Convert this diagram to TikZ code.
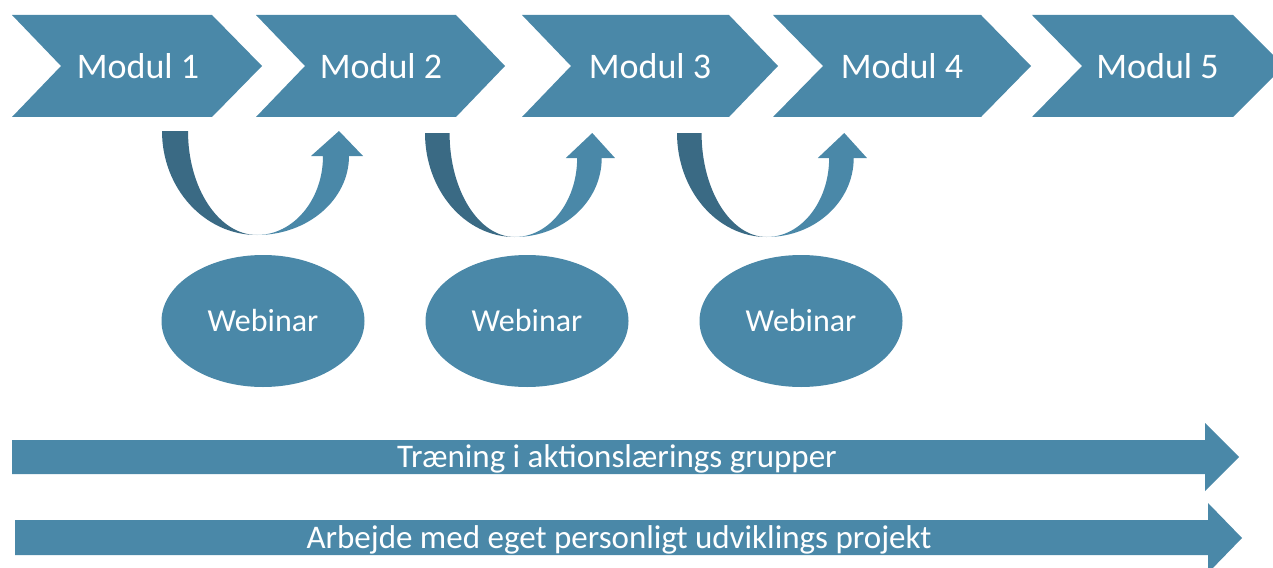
\documentclass[tikz,border=0pt]{standalone}
\usepackage{fontspec}
\setmainfont{Carlito}
\usetikzlibrary{shapes.geometric}
\definecolor{mblue}{HTML}{4A88A8}
\definecolor{mdark}{HTML}{3A6A84}
\newcommand\chevshape[4]{%
  \fill[mblue] (#1,15) -- (#3,15) -- (#4,66) -- (#3,117) -- (#1,117) -- (#2,66) -- cycle;}
\newcommand\uturn[3]{%
  \begin{scope}[shift={(#1,#2)},xscale=#3]
    \fill[mdark] (0,0) .. controls (0,57.4) and (42.5,104) .. (95,104)
      .. controls (56.9,104) and (26,57.4) .. (26,0) -- cycle;
    \fill[mblue] (95,104) .. controls (145.8,104) and (187,68.6) .. (187,25)
      -- (201,25) -- (177,0) -- (149,25) -- (161,25)
      .. controls (161,68.6) and (131.5,104) .. (95,104) -- cycle;
  \end{scope}}
\begin{document}
\begin{tikzpicture}[x=1pt,y=-1pt,
  modtext/.style={anchor=base,text=white,font=\fontsize{36}{40}\selectfont,inner sep=0},
  webnode/.style={ellipse,fill=mblue,text=white,minimum width=203pt,minimum height=132pt,inner sep=0,font=\fontsize{32}{36}\selectfont},
  bartext/.style={anchor=base,text=white,font=\fontsize{33}{36}\selectfont,inner sep=0}]
\useasboundingbox (0,0) rectangle (1273,567);
\clip (0,0) rectangle (1273,567);
% chevrons
\chevshape{12}{61}{212}{262}
\chevshape{256}{305}{456}{505}
\chevshape{522}{571}{729}{778}
\chevshape{773}{823}{981}{1031}
\chevshape{1032}{1082}{1233}{1284}
\node[modtext] (m1) at (138,79) {Modul 1};
\node[modtext] (m2) at (381,79) {Modul 2};
\node[modtext] (m3) at (650,79) {Modul 3};
\node[modtext] (m4) at (902,79) {Modul 4};
\node[modtext] (m5) at (1157.5,79) {Modul 5};
% u-turn arrows
\uturn{162}{131}{1}
\uturn{425}{133}{0.945}
\uturn{677}{133}{0.945}
% webinars
\node[webnode] (w1) at (263,321) {Webinar};
\node[webnode] (w2) at (527,321) {Webinar};
\node[webnode] (w3) at (801,321) {Webinar};
% long arrows
\fill[mblue] (12,440) -- (1205,440) -- (1205,423) -- (1239,457) -- (1205,491) -- (1205,474) -- (12,474) -- cycle;
\fill[mblue] (15,520) -- (1208,520) -- (1208,503) -- (1242,538) -- (1208,573) -- (1208,555) -- (15,555) -- cycle;
\node[bartext] (t1) at (617,467) {Træning i aktionslærings grupper};
\node[bartext] (t2) at (619,548) {Arbejde med eget personligt udviklings projekt};
\end{tikzpicture}
\end{document}
